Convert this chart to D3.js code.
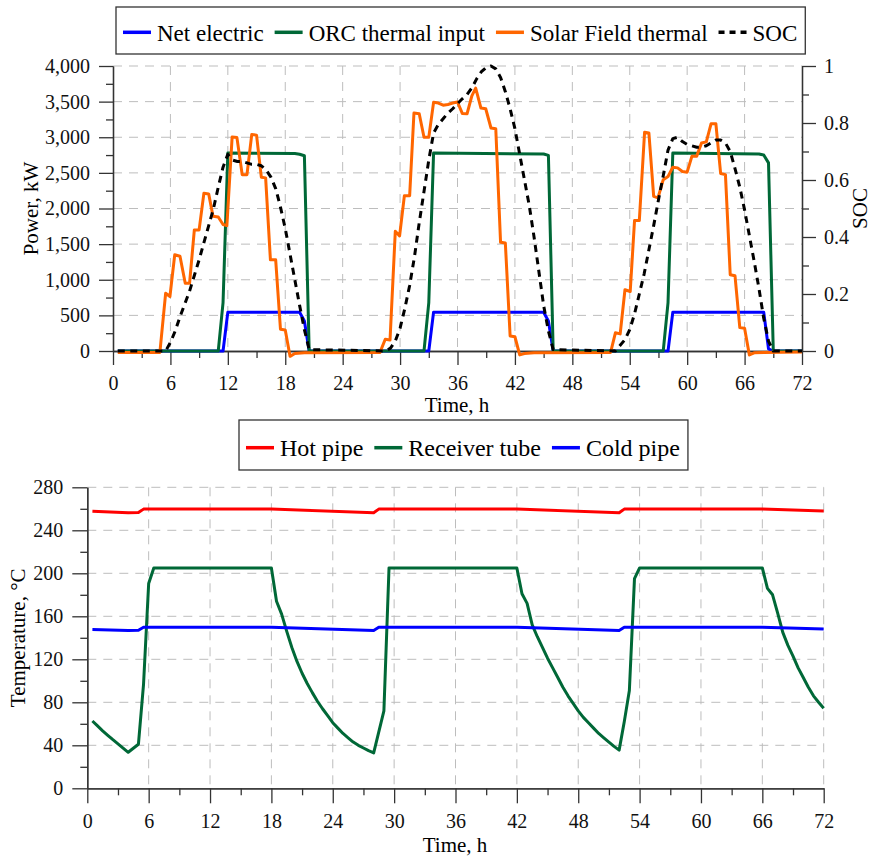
<!DOCTYPE html>
<html>
<head>
<meta charset="utf-8">
<script src="https://cdn.jsdelivr.net/npm/d3@7"></script>
<style>
  body { margin: 0; background: #fff; }
  svg, svg text { font-family: "Liberation Serif", "DejaVu Serif", "Times New Roman", serif; }
  .grid line { stroke: #bdbdbd; stroke-width: 1; stroke-dasharray: 9,7; }
  .axis path, .axis line { stroke: #333; stroke-width: 1.3; }
  .axis text { fill: #111; font-size: 20px; }
  .series { fill: none; stroke-width: 3; stroke-linejoin: round; }
</style>
</head>
<body>
<script>
// ---- data: [time h, value] ----
var netElectric = [[0.5,0],[11.5,0],[12.0,545],[19.5,545],[20.0,420],[20.5,0],[33.0,0],[33.5,545],
  [45.0,545],[45.5,420],[46.0,0],[58.0,0],[58.5,545],[68.0,545],[68.5,30],[69.0,0],[72.0,0]];

var orcThermal = [[0.5,0],[11.0,0],[11.5,680],[12.0,2780],[19.0,2772],[19.5,2762],[20.0,2740],[20.5,0],
  [32.5,0],[33.0,680],[33.5,2780],[45.0,2765],[45.5,2745],[46.0,0],[57.5,0],[58.0,680],[58.5,2780],
  [67.5,2765],[68.0,2750],[68.5,2640],[69.0,0],[72.0,0]];

var solarField = [[0.5,-20],[4.9,-20],[5.5,810],[5.95,765],[6.45,1350],[7.0,1330],[7.55,950],[8.0,950],
  [8.5,1700],[9.0,1700],[9.5,2215],[10.0,2205],[10.45,1890],[11.0,1880],[11.5,1775],[11.9,1760],
  [12.45,3005],[12.95,2995],[13.5,2475],[14.0,2475],[14.5,3040],[15.0,3030],[15.5,2440],[15.95,2430],
  [16.45,1280],[17.0,1280],[17.5,305],[18.0,295],[18.5,-75],[19.0,-35],[20.0,-25],[27.9,-20],
  [28.45,165],[28.95,155],[29.5,1680],[29.95,1615],[30.45,2180],[31.0,2180],[31.45,3340],[32.0,3330],
  [32.5,3000],[33.0,3000],[33.5,3490],[34.0,3480],[34.5,3450],[35.0,3460],[35.5,3480],[36.0,3495],
  [36.5,3335],[37.0,3330],[37.5,3580],[37.9,3690],[38.45,3410],[38.95,3400],[39.5,3130],[40.0,3120],
  [40.5,1525],[41.0,1515],[41.5,210],[42.0,200],[42.5,-55],[43.0,-35],[44.0,-25],[52.0,-20],
  [52.5,255],[53.0,240],[53.5,860],[54.05,835],[54.5,1830],[55.0,1830],[55.55,3070],[56.0,3060],
  [56.5,2170],[56.95,2150],[57.5,2405],[58.0,2450],[58.5,2580],[59.0,2570],[59.5,2520],[60.0,2510],
  [60.5,2735],[61.0,2735],[61.5,2920],[62.0,2935],[62.5,3190],[63.0,3190],[63.5,2490],[64.0,2475],
  [64.5,1070],[65.0,1055],[65.5,328],[66.0,318],[66.5,-55],[67.0,-25],[68.0,-20],[72.0,-15]];

var soc = [[0.5,0],[5.5,0],[6.0,0.03],[6.5,0.07],[7.0,0.12],[7.5,0.165],[8.0,0.21],[8.5,0.265],[9.0,0.32],
  [9.5,0.38],[10.0,0.44],[10.5,0.5],[11.0,0.575],[11.5,0.645],[12.0,0.69],[12.5,0.67],[13.0,0.665],
  [13.5,0.665],[14.0,0.66],[14.5,0.655],[15.0,0.655],[15.5,0.65],[16.0,0.635],[16.5,0.61],[17.0,0.57],
  [17.5,0.505],[18.0,0.43],[18.5,0.34],[19.0,0.25],[19.5,0.16],[20.0,0.075],[20.5,0.005],[28.5,0],
  [29.0,0.01],[29.5,0.035],[30.0,0.08],[30.5,0.15],[31.0,0.23],[31.5,0.33],[32.0,0.45],[32.5,0.56],
  [33.0,0.67],[33.5,0.765],[34.0,0.795],[34.5,0.815],[35.0,0.835],[35.5,0.85],[36.0,0.868],[36.5,0.885],
  [37.0,0.9],[37.5,0.923],[38.0,0.955],[38.5,0.98],[39.0,0.995],[39.5,1.0],[40.0,0.99],[40.5,0.96],
  [41.0,0.91],[41.5,0.85],[42.0,0.78],[42.5,0.69],[43.0,0.6],[43.5,0.51],[44.0,0.4],[44.5,0.28],
  [45.0,0.16],[45.5,0.07],[46.0,0.005],[52.5,0],[53.0,0.02],[53.5,0.04],[54.0,0.075],[54.5,0.13],
  [55.0,0.2],[55.5,0.27],[56.0,0.355],[56.5,0.44],[57.0,0.53],[57.5,0.615],[58.0,0.705],[58.5,0.745],
  [59.0,0.75],[59.5,0.735],[60.0,0.725],[60.5,0.72],[61.0,0.715],[61.5,0.715],[62.0,0.72],[62.5,0.73],
  [63.0,0.74],[63.5,0.74],[64.0,0.73],[64.5,0.7],[65.0,0.64],[65.5,0.575],[66.0,0.495],[66.5,0.405],
  [67.0,0.315],[67.5,0.22],[68.0,0.115],[68.5,0.035],[69.0,0],[72.0,0]];

var hotPipe = [[0.5,257.8],[4.0,256.3],[5.0,256.5],[5.5,259.7],[18.0,259.7],[28.0,256.3],[28.5,259.7],
  [42.0,259.7],[52.0,256.3],[52.5,259.7],[66.0,259.7],[72.0,258.0]];

var receiverTube = [[0.5,62.6],[1.0,58],[1.5,53.5],[2.0,49.3],[2.5,45.2],[3.0,41.3],[3.5,37.4],[4.0,33.5],
  [5.0,41],[5.5,97],[6.0,190.5],[6.5,205],[18.0,205],[18.5,174],[19.0,162],[19.5,146],[20.0,131],
  [20.5,118],[21.0,107],[21.5,97.5],[22.0,89],[22.5,81],[23.0,74],[23.5,67.5],[24.0,61],[24.5,56],
  [25.0,51],[25.5,47],[26.0,43],[26.5,40],[27.0,37.5],[27.5,35],[28.0,33],
  [29.0,72],[29.5,205],[42.0,205],[42.5,181],[43.0,172],[43.5,152],[44.0,141],[44.5,131],[45.0,121],
  [45.5,112],[46.0,103],[46.5,94],[47.0,86],[47.5,79],[48.0,72],[48.5,66],[49.0,61],[49.5,56],
  [50.0,51],[50.5,47],[51.0,43],[51.5,39],[52.0,35.5],[52.5,62],[53.0,91],
  [53.5,195],[54.0,205],[66.0,205],[66.5,186],[67.0,180],[67.5,163],[68.0,145],[68.5,133],[69.0,123],
  [69.5,112],[70.0,103],[70.5,94],[71.0,86],[71.5,80],[72.0,74.5]];

var coldPipe = [[0.5,147.8],[4.0,146.8],[5.0,147.0],[5.5,149.8],[18.0,149.8],[28.0,146.8],[28.5,149.8],
  [42.0,149.8],[52.0,146.8],[52.5,149.8],[66.0,149.8],[72.0,148.2]];

var timeTicks = d3.range(0, 73, 6);
var powerTicks = d3.range(0, 4001, 500);
var socTicks = [0, 0.2, 0.4, 0.6, 0.8, 1];
var tempTicks = d3.range(0, 281, 40);

var topLegend = [
  {name: "Net electric", color: "#0000ff", data: netElectric},
  {name: "ORC thermal input", color: "#006837", data: orcThermal},
  {name: "Solar Field thermal", color: "#ff6600", data: solarField},
  {name: "SOC", color: "#000", data: soc, dash: true}
];
var bottomLegend = [
  {name: "Hot pipe", color: "#ff0000", data: hotPipe},
  {name: "Receiver tube", color: "#006837", data: receiverTube},
  {name: "Cold pipe", color: "#0000ff", data: coldPipe}
];

var serif = "'Liberation Serif', 'DejaVu Serif', serif";

var svg = d3.select("body").append("svg")
    .attr("width", 874).attr("height", 861)
    .attr("font-family", serif);

// ---------------- top chart ----------------
var x1 = d3.scaleLinear().domain([0, 72]).range([113, 802]);
var yP = d3.scaleLinear().domain([0, 4000]).range([351, 66]);
var yS = d3.scaleLinear().domain([0, 1]).range([351, 66]);

// grid
svg.append("g").attr("class", "grid")
  .selectAll("line").data(powerTicks.slice(1)).enter().append("line")
  .attr("x1", x1(0)).attr("x2", x1(72))
  .attr("y1", function(d){ return yP(d); }).attr("y2", function(d){ return yP(d); });
svg.append("g").attr("class", "grid")
  .selectAll("line").data(timeTicks.slice(1, -1)).enter().append("line")
  .attr("x1", function(d){ return x1(d); }).attr("x2", function(d){ return x1(d); })
  .attr("y1", yP(4000)).attr("y2", yP(0));

// axes, major + minor ticks
function styleAxis(g) {
  g.attr("font-family", serif).attr("font-size", 20);
}
svg.append("g").attr("class", "axis").attr("transform", "translate(0," + yP(0) + ")")
  .call(d3.axisBottom(x1).tickValues(d3.range(3, 72, 6)).tickSize(7).tickFormat("").tickSizeOuter(0));
svg.append("g").attr("class", "axis").attr("transform", "translate(0," + yP(0) + ")")
  .call(d3.axisBottom(x1).tickValues(timeTicks).tickSize(14).tickPadding(11).tickSizeOuter(0))
  .call(styleAxis);
svg.append("g").attr("class", "axis").attr("transform", "translate(" + x1(0) + ",0)")
  .call(d3.axisLeft(yP).tickValues(d3.range(250, 4000, 500)).tickSize(7).tickFormat("").tickSizeOuter(0));
svg.append("g").attr("class", "axis").attr("transform", "translate(" + x1(0) + ",0)")
  .call(d3.axisLeft(yP).tickValues(powerTicks).tickSize(14).tickPadding(9).tickSizeOuter(0)
    .tickFormat(d3.format(",")))
  .call(styleAxis);
svg.append("g").attr("class", "axis").attr("transform", "translate(" + x1(72) + ",0)")
  .call(d3.axisRight(yS).tickValues([0.1, 0.3, 0.5, 0.7, 0.9]).tickSize(7).tickFormat("").tickSizeOuter(0));
svg.append("g").attr("class", "axis").attr("transform", "translate(" + x1(72) + ",0)")
  .call(d3.axisRight(yS).tickValues(socTicks).tickSize(14).tickPadding(8).tickSizeOuter(0)
    .tickFormat(d3.format("~g")))
  .call(styleAxis);

// lines
var lineP = d3.line().x(function(d){ return x1(d[0]); }).y(function(d){ return yP(d[1]); });
var lineS = d3.line().x(function(d){ return x1(d[0]); }).y(function(d){ return yS(d[1]); });
topLegend.forEach(function(s) {
  svg.append("path").datum(s.data).attr("class", "series")
    .attr("stroke", s.color)
    .attr("stroke-width", s.dash ? 3.5 : 3)
    .attr("stroke-dasharray", s.dash ? "7,5.5" : null)
    .attr("d", s.dash ? lineS : lineP);
});

// axis titles
svg.append("text").attr("transform", "translate(38,208.5) rotate(-90)")
  .attr("text-anchor", "middle").style("font-size", "21px").text("Power, kW");
svg.append("text").attr("transform", "translate(867,208.5) rotate(-90)")
  .attr("text-anchor", "middle").style("font-size", "21px").text("SOC");
svg.append("text").attr("x", 457).attr("y", 412)
  .attr("text-anchor", "middle").style("font-size", "21px").text("Time, h");

// ---------------- bottom chart ----------------
var x2 = d3.scaleLinear().domain([0, 72]).range([87.3, 823.7]);
var yT = d3.scaleLinear().domain([0, 280]).range([788.3, 487.3]);

svg.append("g").attr("class", "grid")
  .selectAll("line").data(tempTicks.slice(1)).enter().append("line")
  .attr("x1", x2(0)).attr("x2", x2(72))
  .attr("y1", function(d){ return yT(d); }).attr("y2", function(d){ return yT(d); });
svg.append("g").attr("class", "grid")
  .selectAll("line").data(timeTicks.slice(1)).enter().append("line")
  .attr("x1", function(d){ return x2(d); }).attr("x2", function(d){ return x2(d); })
  .attr("y1", yT(280)).attr("y2", yT(0));

svg.append("g").attr("class", "axis").attr("transform", "translate(0," + yT(0) + ")")
  .call(d3.axisBottom(x2).tickValues(d3.range(3, 72, 6)).tickSize(7).tickFormat("").tickSizeOuter(0));
svg.append("g").attr("class", "axis").attr("transform", "translate(0," + yT(0) + ")")
  .call(d3.axisBottom(x2).tickValues(timeTicks).tickSize(15).tickPadding(11).tickSizeOuter(0))
  .call(styleAxis);
svg.append("g").attr("class", "axis").attr("transform", "translate(" + x2(0) + ",0)")
  .call(d3.axisLeft(yT).tickValues(d3.range(20, 280, 40)).tickSize(7).tickFormat("").tickSizeOuter(0));
svg.append("g").attr("class", "axis").attr("transform", "translate(" + x2(0) + ",0)")
  .call(d3.axisLeft(yT).tickValues(tempTicks).tickSize(15).tickPadding(9).tickSizeOuter(0))
  .call(styleAxis);

var lineT = d3.line().x(function(d){ return x2(d[0]); }).y(function(d){ return yT(d[1]); });
bottomLegend.forEach(function(s) {
  svg.append("path").datum(s.data).attr("class", "series")
    .attr("stroke", s.color).attr("d", lineT);
});

svg.append("text").attr("transform", "translate(25,637.8) rotate(-90)")
  .attr("text-anchor", "middle").style("font-size", "21px").text("Temperature, \u00B0C");
svg.append("text").attr("x", 455).attr("y", 852)
  .attr("text-anchor", "middle").style("font-size", "21px").text("Time, h");

// ---------------- legends ----------------
function drawLegend(items, x0, top, h, fs, lineY, baseY) {
  var g = svg.append("g");
  var box = g.append("rect").attr("fill", "#fff").attr("stroke", "#333").attr("stroke-width", 1.3);
  var cx = x0 + 7;
  items.forEach(function(s) {
    g.append("line").attr("x1", cx).attr("x2", cx + 28).attr("y1", lineY).attr("y2", lineY)
      .attr("stroke", s.color).attr("stroke-width", 3.5)
      .attr("stroke-dasharray", s.dash ? "6,5" : null);
    var t = g.append("text").attr("x", cx + 34).attr("y", baseY)
      .attr("font-family", serif)
      .style("font-size", fs + "px").text(s.name);
    cx = cx + 34 + t.node().getComputedTextLength() + 11;
  });
  box.attr("x", x0).attr("y", top).attr("width", cx - 11 + 8 - x0).attr("height", h);
}
drawLegend(topLegend, 116, 7, 47, 23, 32.3, 41);
drawLegend(bottomLegend, 239, 420, 50, 24, 447.7, 456);
</script>
</body>
</html>
